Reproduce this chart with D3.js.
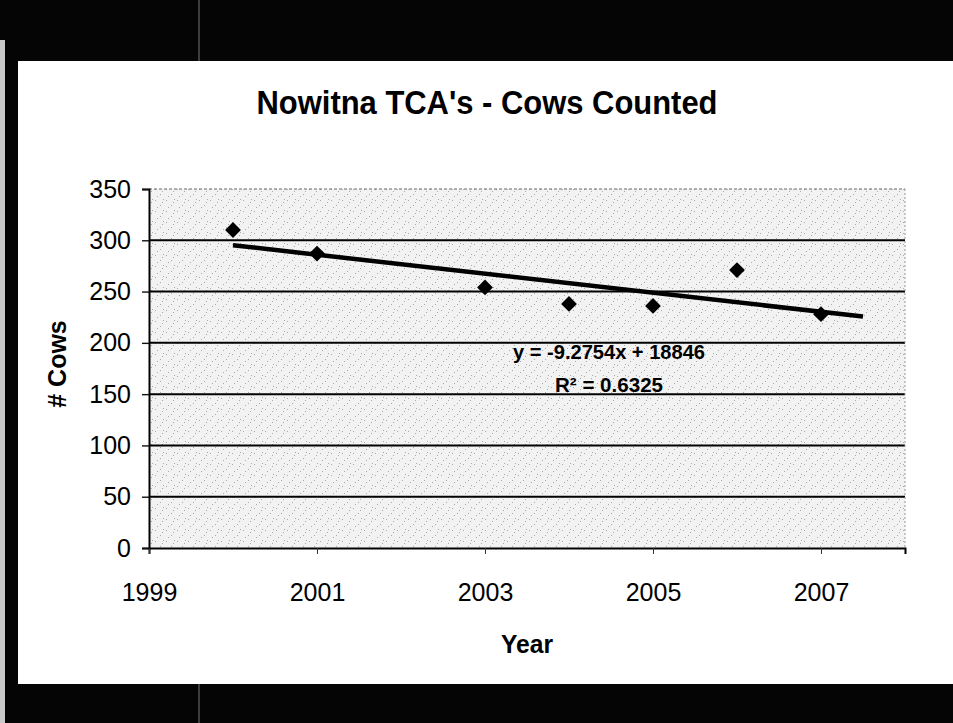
<!DOCTYPE html>
<html><head><meta charset="utf-8">
<script src="https://cdn.jsdelivr.net/npm/d3@7"></script>
<style>body{margin:0;background:#000;}svg{display:block;}</style>
</head><body>
<svg id="c" width="953" height="723"></svg>
<script>
const years = [2000, 2001, 2003, 2004, 2005, 2006, 2007];
const cows = [310, 287, 254, 238, 236, 271, 228];
const xTicks = [1999, 2001, 2003, 2005, 2007];
const yTicks = [0, 50, 100, 150, 200, 250, 300, 350];
const trendCoef = [-9.2754, 18846];      // slope, intercept
const trendRange = [2000, 2007.5];
const eqLabels = ["y = -9.2754x + 18846", "R² = 0.6325"];

const svg = d3.select("#c");
const W = 953, H = 723;
const m = {left: 149, right: 905, top: 189, bottom: 548};
const FONT = "Liberation Sans, Arial, Helvetica, sans-serif";

// frame
svg.append("rect").attr("width", W).attr("height", H).attr("fill", "#050505");
svg.append("rect").attr("x", 0).attr("y", 40).attr("width", 5).attr("height", H-40).attr("fill", "#c8c8c8");
svg.append("rect").attr("x", 18).attr("y", 61).attr("width", W-18).attr("height", 623).attr("fill", "#fff");
svg.append("line").attr("x1", 199).attr("x2", 199).attr("y1", 0).attr("y2", 61).attr("stroke", "#777").attr("stroke-width", 1);
svg.append("line").attr("x1", 199).attr("x2", 199).attr("y1", 684).attr("y2", H).attr("stroke", "#777").attr("stroke-width", 1);

// stipple pattern
const defs = svg.append("defs");
const pat = defs.append("pattern").attr("id", "stip").attr("patternUnits", "userSpaceOnUse").attr("width", 11).attr("height", 11);
pat.append("rect").attr("width", 11).attr("height", 11).attr("fill", "#f2f2f2");
[[1,2],[6,7],[9,1],[3,9],[8,4]].forEach(p => pat.append("rect").attr("x", p[0]).attr("y", p[1]).attr("width", 1).attr("height", 1).attr("fill", "#aaa"));

const x = d3.scaleLinear().domain([1999, 2008]).range([m.left, m.right]);
const y = d3.scaleLinear().domain([0, 350]).range([m.bottom, m.top]);

svg.append("rect").attr("x", m.left).attr("y", m.top).attr("width", m.right-m.left).attr("height", m.bottom-m.top).attr("fill", "url(#stip)");

// gridlines
svg.append("g").selectAll("line").data(yTicks.filter(d => d > 0 && d < 350)).join("line")
  .attr("x1", m.left).attr("x2", m.right).attr("y1", d => y(d)).attr("y2", d => y(d))
  .attr("stroke", "#000").attr("stroke-width", 2);
svg.append("line").attr("x1", m.left).attr("x2", m.right).attr("y1", y(350)).attr("y2", y(350))
  .attr("stroke", "#666").attr("stroke-width", 1).attr("stroke-dasharray", "3,2");
svg.append("line").attr("x1", m.right).attr("x2", m.right).attr("y1", y(350)).attr("y2", y(0))
  .attr("stroke", "#999").attr("stroke-width", 1).attr("stroke-dasharray", "2,2");

// axes
const yAxis = svg.append("g").attr("transform", `translate(${m.left},0)`)
  .call(d3.axisLeft(y).tickValues(yTicks).tickSize(7).tickPadding(11));
yAxis.select(".domain").attr("stroke", "#000").attr("stroke-width", 2);
yAxis.selectAll(".tick line").attr("stroke", "#111").attr("stroke-width", 1.4);
yAxis.selectAll("text").attr("font-family", FONT).attr("font-size", 25).attr("fill", "#000");

const xAxis = svg.append("g").attr("transform", `translate(0,${m.bottom})`)
  .call(d3.axisBottom(x).tickValues(xTicks).tickFormat(d3.format("d")).tickSize(6).tickPadding(47));
xAxis.select(".domain").attr("stroke", "#000").attr("stroke-width", 2);
xAxis.selectAll(".tick line").attr("stroke", "#333").attr("stroke-width", 1);
xAxis.selectAll("text").attr("font-family", FONT).attr("font-size", 25).attr("fill", "#000").attr("dy", "0");

// trend line
const line = d3.line().x(d => x(d)).y(d => y(trendCoef[0]*d + trendCoef[1]));
svg.append("path").datum(trendRange).attr("d", line).attr("stroke", "#000").attr("stroke-width", 4.5).attr("fill", "none");

// points
const sym = d3.symbol().type(d3.symbolSquare).size(125);
svg.append("g").selectAll("path").data(years.map((d, i) => [d, cows[i]])).join("path")
  .attr("d", sym).attr("transform", d => `translate(${x(d[0])},${y(d[1])}) rotate(45)`).attr("fill", "#000");

// equation labels
svg.append("text").attr("x", 609).attr("y", 359).attr("text-anchor", "middle")
  .attr("font-family", FONT).attr("font-weight", "bold").attr("font-size", 20)
  .attr("textLength", 192).attr("lengthAdjust", "spacingAndGlyphs").text(eqLabels[0]);
svg.append("text").attr("x", 609).attr("y", 392).attr("text-anchor", "middle")
  .attr("font-family", FONT).attr("font-weight", "bold").attr("font-size", 20)
  .attr("textLength", 108).attr("lengthAdjust", "spacingAndGlyphs").text(eqLabels[1]);

// titles
svg.append("text").attr("x", 487).attr("y", 114).attr("text-anchor", "middle")
  .attr("font-family", FONT).attr("font-weight", "bold").attr("font-size", 34)
  .attr("textLength", 461).attr("lengthAdjust", "spacingAndGlyphs").text("Nowitna TCA's - Cows Counted");
svg.append("text").attr("x", 527).attr("y", 653).attr("text-anchor", "middle")
  .attr("font-family", FONT).attr("font-weight", "bold").attr("font-size", 26)
  .attr("textLength", 52).attr("lengthAdjust", "spacingAndGlyphs").text("Year");
svg.append("text").attr("transform", "translate(66,364) rotate(-90)").attr("text-anchor", "middle")
  .attr("font-family", FONT).attr("font-weight", "bold").attr("font-size", 25)
  .text("# Cows");
</script>
</body></html>
